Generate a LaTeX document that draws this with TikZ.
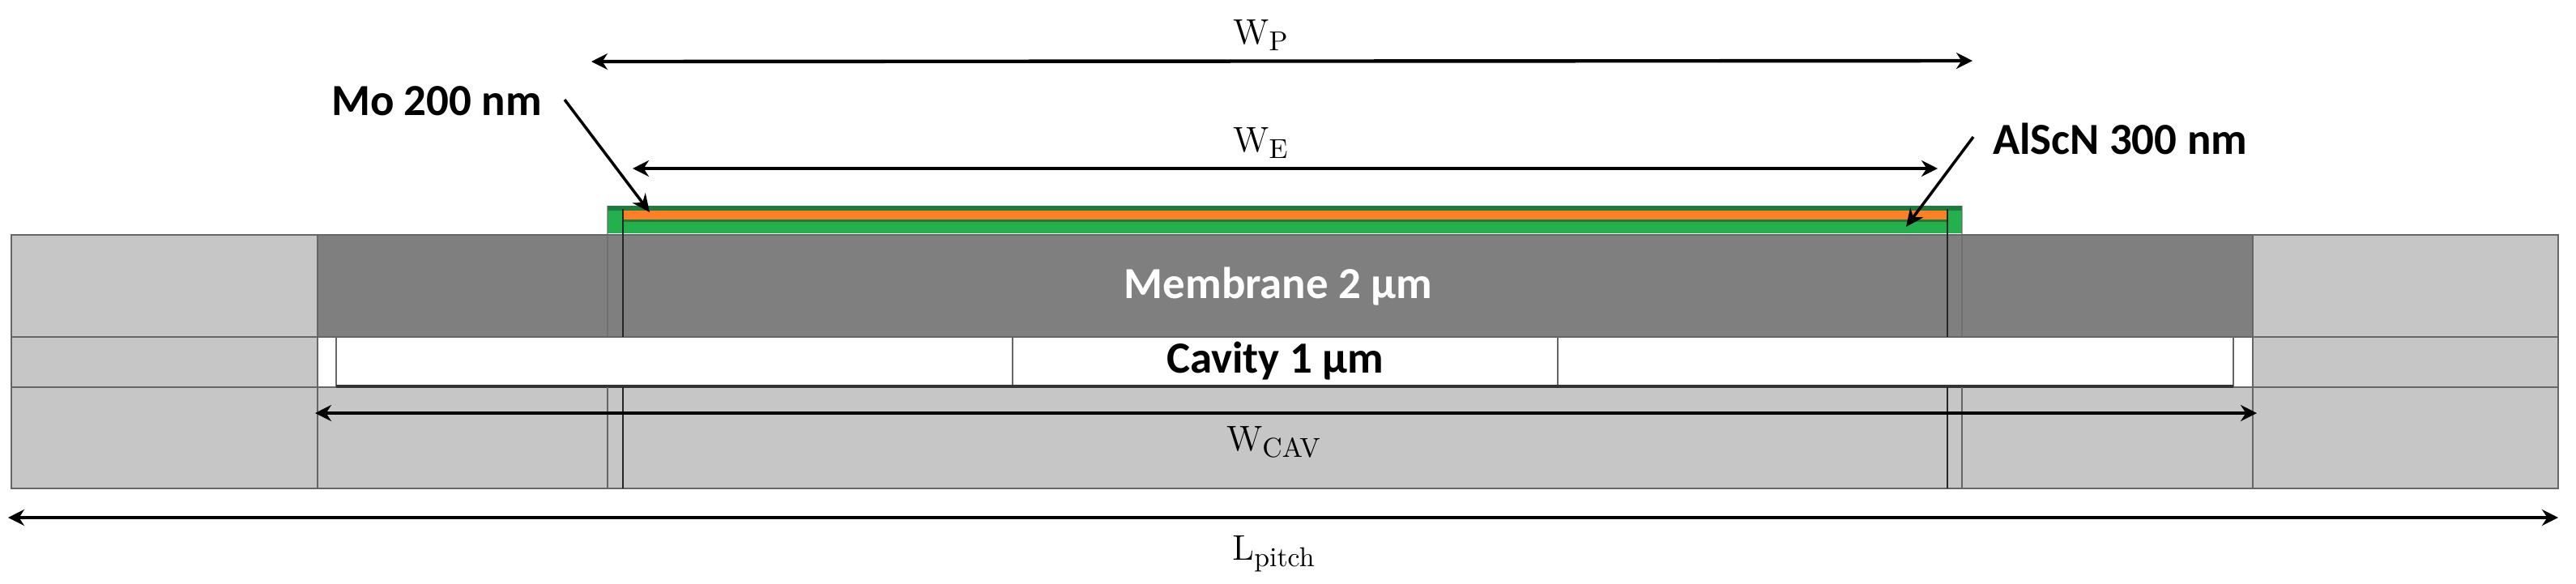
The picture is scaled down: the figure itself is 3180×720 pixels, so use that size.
\documentclass[tikz,border=0pt]{standalone}
\usepackage{fontspec}
\usetikzlibrary{arrows.meta}
\newfontfamily\carlito{Carlito}
\newcommand{\dimsub}[1]{\raisebox{-2.4pt}{\fontsize{9.6}{10}\selectfont #1}}
\definecolor{lightgrey}{HTML}{C6C6C6}
\definecolor{darkgrey}{HTML}{7F7F7F}
\definecolor{edgegrey}{HTML}{666666}
\definecolor{pzgreen}{HTML}{22B14C}
\definecolor{pzband}{HTML}{1F7A3E}
\definecolor{moorange}{HTML}{FF7F27}
\tikzset{
	layer/.style={draw=edgegrey, line width=0.8pt},
	sideline/.style={draw=edgegrey, line width=0.8pt},
	padline/.style={draw=black!85, line width=0.7pt},
	dimarrow/.style={line width=1.25pt, {Stealth[length=0.2cm,width=0.2cm]}-{Stealth[length=0.2cm,width=0.2cm]}},
	callout/.style={line width=1pt, -{Stealth[length=0.22cm,width=0.2cm]}},
	boldlabel/.style={font=\carlito\bfseries\fontsize{15.6}{17}\selectfont, inner sep=0pt},
	dimlabel/.style={font=\fontsize{12.5}{14}\selectfont, inner sep=0pt, anchor=base}
}

\begin{document}
\begin{tikzpicture}[x=0.01cm, y=-0.01cm]
			%%%%% START %%%%%
			\useasboundingbox (0, 0) rectangle (3180, 720);
			
			% substrate and anchors
			\draw[layer, fill=lightgrey] (14, 478) rectangle (3158, 603);
			\draw[layer, fill=lightgrey] (14, 416) rectangle (392, 478);
			\draw[layer, fill=lightgrey] (2781, 416) rectangle (3158, 478);
			\draw[layer, fill=lightgrey] (14, 290) rectangle (392, 416);
			\draw[layer, fill=lightgrey] (2781, 290) rectangle (3158, 416);
			
			% membrane
			\draw[layer, fill=darkgrey] (392, 290) rectangle (2781, 416);
			
			% cavity
			\draw[layer, fill=white] (392, 416) rectangle (2781, 478);
			\draw[sideline] (415, 416) -- (415, 478);
			\draw[sideline] (2757, 416) -- (2757, 478);
			\draw[sideline] (1250, 416) -- (1250, 478);
			\draw[sideline] (1923, 416) -- (1923, 478);
			\draw[line width=1pt, color=black!80] (415, 477) -- (2757, 477);
			
			% piezo stack
			\fill[pzgreen] (750, 254) rectangle (2422, 288);
			\fill[pzband] (750, 254) rectangle (2422, 260);
			\fill[pzband] (769, 271) rectangle (2404, 274);
			\fill[moorange] (769, 260) rectangle (2404, 271);
			\draw[sideline, draw opacity=0.6] (750, 254) -- (750, 290);
			\draw[sideline, draw opacity=0.6] (2422, 254) -- (2422, 290);
			
			% edges through the layers
			\draw[sideline, draw opacity=0.6] (750, 290) -- (750, 416);
			\draw[sideline, draw opacity=0.6] (2422, 290) -- (2422, 416);
			\draw[sideline] (750, 478) -- (750, 603);
			\draw[sideline] (2422, 478) -- (2422, 603);
			\draw[sideline] (392, 478) -- (392, 603);
			\draw[sideline] (2781, 478) -- (2781, 603);
			\draw[padline] (769, 258) -- (769, 416);
			\draw[padline] (2404, 258) -- (2404, 416);
			\draw[padline] (769, 478) -- (769, 603);
			\draw[padline] (2404, 478) -- (2404, 603);
			
			% dimensions
			\coordinate (wpleft) at (730, 76);
			\coordinate (wpright) at (2435, 75);
			\coordinate (weleft) at (781, 208);
			\coordinate (weright) at (2392, 208);
			\coordinate (wcavleft) at (389, 510);
			\coordinate (wcavright) at (2786, 510);
			\coordinate (lpitchleft) at (10, 639);
			\coordinate (lpitchright) at (3158, 639);
			\draw[dimarrow] (wpleft) -- (wpright);
			\draw[dimarrow] (weleft) -- (weright);
			\draw[dimarrow] (wcavleft) -- (wcavright);
			\draw[dimarrow] (lpitchleft) -- (lpitchright);
			
			\node[dimlabel] (wp) at (1556, 54) {W\dimsub{P}};
			\node[dimlabel] (we) at (1556, 187) {W\dimsub{E}};
			\node[dimlabel] (wcav) at (1572, 556) {W\dimsub{CAV}};
			\node[dimlabel] (lpitch) at (1572, 691) {L\dimsub{pitch}};
			
			% layer labels
			\node[boldlabel] (mo) at (539, 125) {Mo 200 nm};
			\node[boldlabel] (alscn) at (2617, 171) {AlScN 300 nm};
			\node[boldlabel, text=white] (membrane) at (1578, 354) {Membrane 2 µm};
			\node[boldlabel] (cavity) at (1574, 446) {Cavity 1 µm};
			
			% callouts
			\coordinate (motail) at (697, 123);
			\coordinate (motip) at (802, 262);
			\coordinate (alscntail) at (2436, 169);
			\coordinate (alscntip) at (2353, 280);
			\draw[callout] (motail) -- (motip);
			\draw[callout] (alscntail) -- (alscntip);
			
			%%%%% END %%%%%
		\end{tikzpicture}
\end{document}
